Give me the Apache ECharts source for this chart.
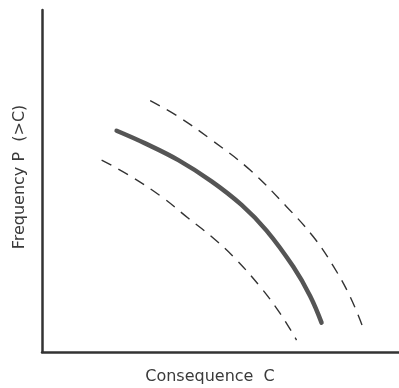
<!DOCTYPE html>
<html>
<head>
<meta charset="utf-8">
<script src="https://cdn.jsdelivr.net/npm/echarts@6/dist/echarts.min.js"></script>
<style>html,body{margin:0;padding:0;background:#fff;}#c{width:399px;height:388px;}</style>
</head>
<body>
<div id="c"></div>
<script>
// Consequence (x) / frequency (y) in arbitrary relative units (0-100)
const centralX = [20.9, 28.9, 38.2, 47.5, 55.9, 62.9, 70.4, 75.1, 78.3];
const centralY = [64.7, 61.0, 56.1, 49.9, 43.0, 35.5, 24.9, 16.4, 8.6];
const upperX = [30.3, 38.2, 47.5, 58.3, 68.5, 76.0, 81.6, 86.3, 90.0];
const upperY = [73.5, 68.8, 62.0, 53.2, 42.5, 33.7, 25.1, 16.2, 6.9];
const lowerX = [16.7, 24.2, 33.5, 41.0, 47.3, 53.6, 61.1, 66.7, 71.3];
const lowerY = [56.1, 51.8, 45.4, 39.1, 33.9, 27.9, 19.1, 11.3, 3.5];
const xTitle = 'Consequence  C';
const yTitle = 'Frequency P  (>C)';

const pair = (xs, ys) => xs.map((x, i) => [x, ys[i]]);
const chart = echarts.init(document.getElementById('c'), null, {renderer: 'canvas'});
const axisCommon = {
  type: 'value', min: 0, max: 100,
  axisTick: {show: false}, axisLabel: {show: false}, splitLine: {show: false},
  axisLine: {show: true, lineStyle: {color: '#333', width: 2.5}}
};
const font = '16px "DejaVu Sans", sans-serif';
chart.setOption({
  animation: false,
  backgroundColor: '#fff',
  grid: {left: 42, right: 0, top: 10, bottom: 36},
  xAxis: axisCommon,
  yAxis: axisCommon,
  graphic: [
    {type: 'text', x: 210, y: 377, style: {text: xTitle, font: font, fill: '#3a3a3a', align: 'center', verticalAlign: 'middle'}},
    {type: 'text', x: 20, y: 177, rotation: Math.PI / 2, style: {text: yTitle, font: font, fill: '#3a3a3a', align: 'center', verticalAlign: 'middle'}}
  ],
  series: [
    {type: 'line', data: pair(centralX, centralY), smooth: 0.4, symbol: 'none',
     lineStyle: {color: '#555', width: 4.5, cap: 'round'}},
    {type: 'line', data: pair(upperX, upperY), smooth: 0.4, symbol: 'none',
     lineStyle: {color: '#333', width: 1.4, type: [11, 8]}},
    {type: 'line', data: pair(lowerX, lowerY), smooth: 0.4, symbol: 'none',
     lineStyle: {color: '#333', width: 1.4, type: [11, 8]}}
  ]
});
</script>
</body>
</html>
